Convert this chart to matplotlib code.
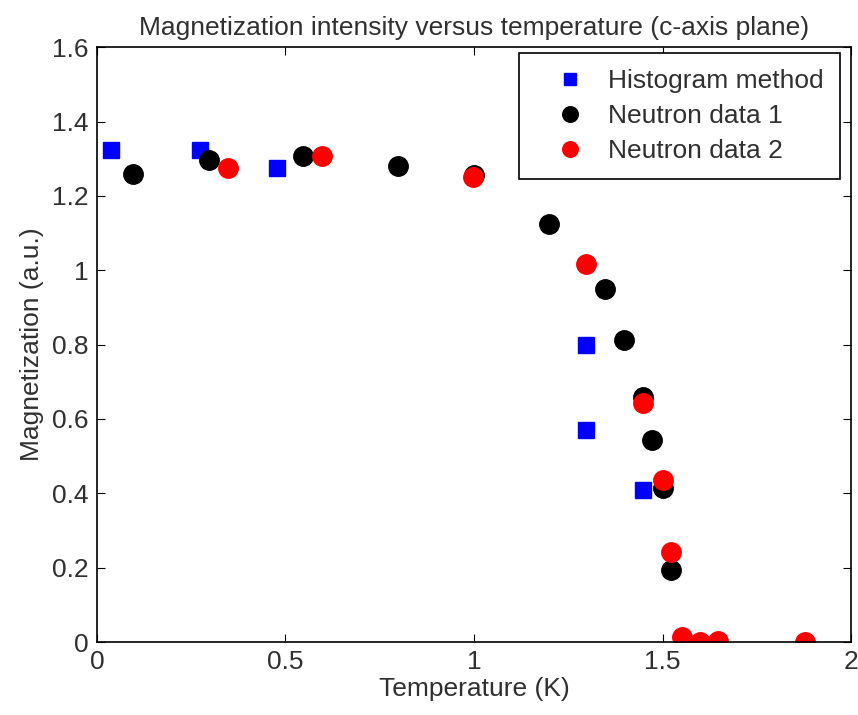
import matplotlib.pyplot as plt
import numpy as np

plt.rcParams['font.family'] = ['Liberation Sans', 'DejaVu Sans']

# Histogram method
hist_T = [0.037, 0.273, 0.478, 1.297, 1.297, 1.448]
hist_M = [1.323, 1.323, 1.274, 0.798, 0.570, 0.410]

# Neutron data 1
n1_T = [0.095, 0.297, 0.546, 0.798, 1.0, 1.198, 1.347, 1.398, 1.448, 1.472, 1.5, 1.523]
n1_M = [1.258, 1.296, 1.306, 1.280, 1.255, 1.125, 0.949, 0.812, 0.658, 0.543, 0.414, 0.194]

# Neutron data 2
n2_T = [0.348, 0.597, 0.998, 1.297, 1.448, 1.5, 1.523, 1.551, 1.600, 1.648, 1.878]
n2_M = [1.274, 1.306, 1.250, 1.016, 0.642, 0.435, 0.242, 0.013, 0.001, 0.003, 0.0]

fs = 19
txt = '#303030'

fig = plt.figure(figsize=(8.58, 7.15), dpi=100)
ax = fig.add_axes([0.113, 0.102, 0.879, 0.832])

ax.plot(hist_T, hist_M, 's', color='#0000ff', markersize=11, markeredgecolor='#0000ff', label='Histogram method')
ax.plot(n1_T, n1_M, 'o', color='black', markersize=14, label='Neutron data 1')
ax.plot(n2_T, n2_M, 'o', color='#ff0000', markersize=14, markeredgecolor='#ff0000', label='Neutron data 2')

ax.set_xlim(0, 2)
ax.set_ylim(0, 1.6)
ax.set_xticks(np.arange(0, 2.01, 0.5))
ax.set_xticklabels(['0', '0.5', '1', '1.5', '2'])
ax.set_yticks(np.arange(0, 1.61, 0.2))
ax.set_yticklabels(['0', '0.2', '0.4', '0.6', '0.8', '1', '1.2', '1.4', '1.6'])
ax.tick_params(direction='in', top=True, right=True, labelsize=fs, length=6, pad=6,
               labelcolor=txt)
for s in ax.spines.values():
    s.set_linewidth(1.2)

ax.set_xlabel('Temperature (K)', fontsize=fs, labelpad=2, color=txt)
ax.set_ylabel('Magnetization (a.u.)', fontsize=fs, labelpad=6, color=txt)
ax.set_title('Magnetization intensity versus temperature (c-axis plane)', fontsize=fs, pad=9,
             color=txt)

leg = ax.legend(loc='upper right', bbox_to_anchor=(0.985, 0.99), borderaxespad=0,
                fontsize=fs, fancybox=False, edgecolor='black', framealpha=1,
                borderpad=0.6, labelspacing=0.42, handletextpad=0.17,
                handlelength=2.6, markerscale=0.8)
leg.get_frame().set_linewidth(1.2)
for t in leg.get_texts():
    t.set_color(txt)

plt.savefig('out.png', dpi=100)
